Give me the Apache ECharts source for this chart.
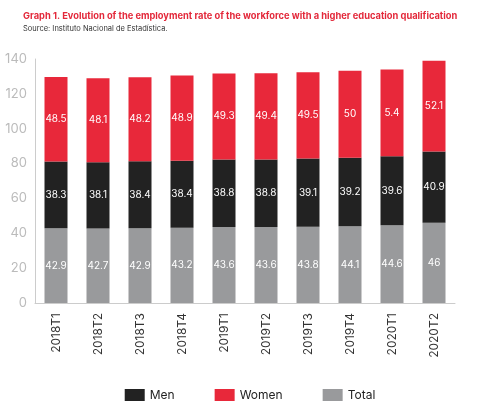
<!DOCTYPE html>
<html>
<head>
<meta charset="utf-8">
<script src="https://cdn.jsdelivr.net/npm/echarts@6/dist/echarts.min.js"></script>
<style>html,body{margin:0;padding:0;background:#fff}#chart{width:500px;height:418px}</style>
</head>
<body>
<div id="chart"></div>
<script>
const categories = ['2018T1', '2018T2', '2018T3', '2018T4', '2019T1', '2019T2', '2019T3', '2019T4', '2020T1', '2020T2']
const total = [42.9, 42.7, 42.9, 43.2, 43.6, 43.6, 43.8, 44.1, 44.6, 46]
const men = [38.3, 38.1, 38.4, 38.4, 38.8, 38.8, 39.1, 39.2, 39.6, 40.9]
const women = [48.5, 48.1, 48.2, 48.9, 49.3, 49.4, 49.5, 50, 49.8, 52.1]
// labels as printed on the chart (2020T1 reads "5.4")
const womenLabels = ['48.5', '48.1', '48.2', '48.9', '49.3', '49.4', '49.5', '50', '5.4', '52.1']

const myChart = echarts.init(document.getElementById('chart'))
const lbl = { show: true, position: 'inside', color: '#fff', fontSize: 10, fontFamily: 'Inter' }
const option = {
  animation: false,
  title: {
    text: 'Graph 1. Evolution of the employment rate of the workforce with a higher education qualification',
    subtext: 'Source: Instituto Nacional de Estadística.',
    left: 18,
    top: 7,
    itemGap: 4,
    textStyle: { color: '#e3283a', fontSize: 9.3, fontWeight: 'bold', fontFamily: 'Inter' },
    subtextStyle: { color: '#333', fontSize: 7.5, fontFamily: 'Inter' }
  },
  grid: { left: 35, right: 45, top: 59, bottom: 115 },
  legend: {
    bottom: 12,
    itemWidth: 20,
    itemHeight: 12,
    itemGap: 40,
    icon: 'rect',
    textStyle: { color: '#222', fontSize: 12, fontFamily: 'Inter' },
    data: ['Men', 'Women', 'Total']
  },
  xAxis: {
    type: 'category',
    data: categories,
    axisLine: { lineStyle: { color: '#ccc' } },
    axisTick: { show: false },
    axisLabel: { rotate: 90, color: '#333', fontSize: 12, fontFamily: 'Inter', margin: 10 }
  },
  yAxis: {
    type: 'value',
    min: 0,
    max: 140,
    interval: 20,
    splitLine: { show: false },
    axisLine: { show: true, lineStyle: { color: '#ccc' } },
    axisTick: { show: false },
    axisLabel: { color: '#bbb', fontSize: 13, fontFamily: 'Inter' }
  },
  series: [
    { name: 'Total', type: 'bar', stack: 'a', barWidth: 23, data: total, itemStyle: { color: '#999a9c' }, label: lbl },
    { name: 'Men', type: 'bar', stack: 'a', data: men, itemStyle: { color: '#222222' }, label: lbl },
    {
      name: 'Women', type: 'bar', stack: 'a', data: women, itemStyle: { color: '#e8283a' },
      label: Object.assign({}, lbl, { formatter: p => womenLabels[p.dataIndex] })
    }
  ]
}
myChart.setOption(option)
</script>
</body>
</html>
